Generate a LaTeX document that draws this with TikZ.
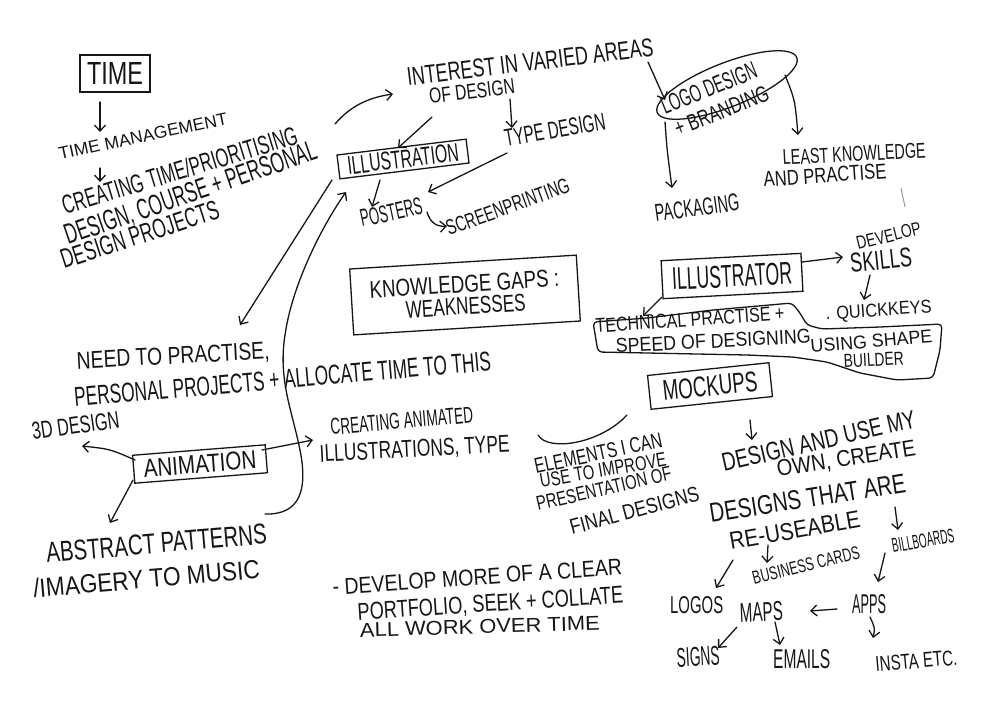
\documentclass[tikz,border=0pt]{standalone}
\usepackage{fontspec}
\setmainfont{Liberation Sans}
\usetikzlibrary{arrows.meta,shapes.geometric}
\newcommand\hwtext[3]{\resizebox{#1pt}{#2pt}{#3}}
\definecolor{ink}{HTML}{161616}
\definecolor{faint}{HTML}{9A9A9A}
\begin{document}
\begin{tikzpicture}[x=1pt,y=-1pt,
  lbl/.style={inner sep=0pt, anchor=base west, text=ink},
  box/.style={draw=ink, line width=1.3pt, inner sep=0pt, text=ink},
  conn/.style={draw=ink, line width=1.3pt, line cap=round, -{Straight Barb[length=6pt,width=11pt]}},
  plain/.style={draw=ink, line width=1.3pt, line cap=round}]
\fill[white] (0,0) rectangle (1000,705);
\useasboundingbox (0,0) rectangle (1000,705);

% ---------- boxes ----------
\node[box, minimum width=70pt, minimum height=37pt] (time) at (115,73.5) {\hwtext{56}{22}{TIME}};
\node[box, rotate=7, minimum width=130pt, minimum height=24pt] (illus) at (403,159) {\hwtext{112}{18}{ILLUSTRATION}};
\node[box, rotate=3.5, minimum width=227pt, minimum height=66pt, align=center, font=\fontsize{10pt}{22pt}\selectfont] (gaps) at (465,295) {\hwtext{190}{17}{KNOWLEDGE GAPS :}\\\hwtext{120}{17}{WEAKNESSES}};
\node[box, rotate=3, minimum width=140pt, minimum height=38pt] (illustrator) at (732,276) {\hwtext{120}{22}{ILLUSTRATOR}};
\node[box, rotate=6, minimum width=122pt, minimum height=34pt] (mock) at (710,386) {\hwtext{95}{20}{MOCKUPS}};
\node[box, rotate=4.5, minimum width=133pt, minimum height=28pt] (anim) at (200,464) {\hwtext{113}{18}{ANIMATION}};
\node[draw=ink, line width=1.3pt, ellipse, rotate=21.5, minimum width=150pt, minimum height=44pt, inner sep=0pt] (logo) at (727,85) {};
\draw[plain, rounded corners=4pt] (593,322) -- (647,318) -- (713,310) -- (792,303) -- (800,313) -- (807,325) -- (822,329) -- (880,327) -- (942,324) -- (940,350) -- (933,378) -- (897,380) -- (860,373) -- (827,362) -- (793,357) -- (747,355) -- (598,352) -- cycle;

% ---------- texts ----------
\node[lbl, rotate=12] (tm) at (60,160) {\hwtext{172}{12}{TIME MANAGEMENT}};
\node[lbl, rotate=17] (ct1) at (65,215) {\hwtext{245}{19}{CREATING TIME/PRIORITISING}};
\node[lbl, rotate=19] (ct2) at (68,245) {\hwtext{265}{20}{DESIGN, COURSE + PERSONAL}};
\node[lbl, rotate=18] (ct3) at (64,269) {\hwtext{165}{19}{DESIGN PROJECTS}};
\node[lbl, rotate=7] (int1) at (408,86) {\hwtext{248}{18}{INTEREST IN VARIED AREAS}};
\node[lbl, rotate=7] (int2) at (430,104) {\hwtext{86}{15}{OF DESIGN}};
\node[lbl, rotate=10] (type) at (506,147) {\hwtext{102}{17}{TYPE DESIGN}};
\node[lbl, rotate=12] (post) at (362,227) {\hwtext{63}{17}{POSTERS}};
\node[lbl, rotate=20] (screen) at (449,236) {\hwtext{130}{15}{SCREENPRINTING}};
\node[lbl, rotate=3] (need1) at (77,369) {\hwtext{193}{17}{NEED TO PRACTISE,}};
\node[lbl, rotate=5] (need2) at (75,407) {\hwtext{418}{19}{PERSONAL PROJECTS + ALLOCATE TIME TO THIS}};
\node[lbl, rotate=8] (threed) at (33,440) {\hwtext{88}{17}{3D DESIGN}};
\node[lbl, rotate=5] (cai1) at (331,435) {\hwtext{143}{16}{CREATING ANIMATED}};
\node[lbl, rotate=3] (cai2) at (320,462) {\hwtext{190}{17}{ILLUSTRATIONS, TYPE}};
\node[lbl, rotate=5] (abs1) at (47,563) {\hwtext{221}{20}{ABSTRACT PATTERNS}};
\node[lbl, rotate=5] (abs2) at (34,598) {\hwtext{227}{19}{/IMAGERY TO MUSIC}};
\node[lbl, rotate=4] (dev1) at (333,595) {\hwtext{290}{16}{- DEVELOP MORE OF A CLEAR}};
\node[lbl, rotate=3.7] (dev2) at (358,620) {\hwtext{266}{17}{PORTFOLIO, SEEK + COLLATE}};
\node[lbl, rotate=1.7] (dev3) at (360,637) {\hwtext{240}{14}{ALL WORK OVER TIME}};
\node[lbl, rotate=22] (logo1) at (665,115) {\hwtext{101}{17}{LOGO DESIGN}};
\node[lbl, rotate=22] (logo2) at (678,137) {\hwtext{100}{16}{+ BRANDING}};
\node[lbl, rotate=8] (pack) at (656,222) {\hwtext{85}{17}{PACKAGING}};
\node[lbl, rotate=3] (least1) at (783,165) {\hwtext{143}{15}{LEAST KNOWLEDGE}};
\node[lbl, rotate=4] (least2) at (764,187) {\hwtext{123}{15}{AND PRACTISE}};
\node[lbl, rotate=14] (skill1) at (858,250) {\hwtext{66}{13}{DEVELOP}};
\node[lbl, rotate=6] (skill2) at (851,273) {\hwtext{62}{19}{SKILLS}};
\node[lbl, rotate=4] (quick) at (826,320) {\hwtext{106}{13}{. QUICKKEYS}};
\node[lbl, rotate=4] (tech1) at (596,333) {\hwtext{189}{14}{TECHNICAL PRACTISE +}};
\node[lbl, rotate=3] (tech2) at (616,353) {\hwtext{195}{14}{SPEED OF DESIGNING}};
\node[lbl, rotate=5] (shape1) at (811,353) {\hwtext{122}{13}{USING SHAPE}};
\node[lbl, rotate=3] (shape2) at (844,368) {\hwtext{60}{13}{BUILDER}};
\node[lbl, rotate=12] (el1) at (536,474) {\hwtext{130}{15}{ELEMENTS I CAN}};
\node[lbl, rotate=10] (el2) at (541,488) {\hwtext{128}{14}{USE TO IMPROVE}};
\node[lbl, rotate=13] (el3) at (538,511) {\hwtext{138}{14}{PRESENTATION OF}};
\node[lbl, rotate=15] (el4) at (572,535) {\hwtext{133}{15}{FINAL DESIGNS}};
\node[lbl, rotate=13] (du1) at (724,472) {\hwtext{198}{18}{DESIGN AND USE MY}};
\node[lbl, rotate=9] (du2) at (778,477) {\hwtext{140}{16}{OWN, CREATE}};
\node[lbl, rotate=9] (du3) at (711,523) {\hwtext{198}{19}{DESIGNS THAT ARE}};
\node[lbl, rotate=10] (du4) at (731,550) {\hwtext{132}{17}{RE-USEABLE}};
\node[lbl, rotate=14] (bus) at (754,585) {\hwtext{110}{13}{BUSINESS CARDS}};
\node[lbl, rotate=10] (bill) at (893,553) {\hwtext{63}{14}{BILLBOARDS}};
\node[lbl] (logos) at (670,613) {\hwtext{53}{17}{LOGOS}};
\node[lbl, rotate=2] (maps) at (740,622) {\hwtext{43}{19}{MAPS}};
\node[lbl] (apps) at (852,613) {\hwtext{34}{19}{APPS}};
\node[lbl, rotate=3] (signs) at (677,667) {\hwtext{43}{19}{SIGNS}};
\node[lbl] (emails) at (773,668) {\hwtext{57}{19}{EMAILS}};
\node[lbl, rotate=5] (insta) at (876,672) {\hwtext{82}{15}{INSTA ETC.}};

% ---------- connector end points ----------
\coordinate (tA) at (100,102); \coordinate (tB) at (100,132);
\coordinate (tC) at (100,168); \coordinate (tD) at (100,182);
\coordinate (pA) at (335,124); \coordinate (pB) at (393,94);
\coordinate (iA) at (432,117); \coordinate (iB) at (398,148);
\coordinate (dA) at (510,99);  \coordinate (dB) at (512,128);
\coordinate (yA) at (507,153); \coordinate (yB) at (428,192);
\coordinate (lA) at (380,180); \coordinate (lB) at (372,207);
\coordinate (sA) at (427,212); \coordinate (sB) at (447,226);
\coordinate (nA) at (332,180); \coordinate (nB) at (240,325);
\coordinate (cA) at (265,514); \coordinate (cB) at (346,192);
\coordinate (rA) at (802,262); \coordinate (rB) at (843,257);
\coordinate (kA) at (870,275); \coordinate (kB) at (864,300);
\coordinate (eA) at (662,297); \coordinate (eB) at (643,316);
\coordinate (gA) at (648,62);  \coordinate (gB) at (665,100);
\coordinate (hA) at (665,122); \coordinate (hB) at (672,188);
\coordinate (jA) at (785,75);  \coordinate (jB) at (798,135);
\coordinate (fA) at (901,188); \coordinate (fB) at (905,207);
\coordinate (mA) at (135,460); \coordinate (mB) at (82,446);
\coordinate (oA) at (262,450); \coordinate (oB) at (313,440);
\coordinate (bA) at (133,480); \coordinate (bB) at (110,523);
\coordinate (uA) at (750,420); \coordinate (uB) at (752,440);
\coordinate (wA) at (538,435); \coordinate (wB) at (627,415);
\coordinate (vA) at (733,560); \coordinate (vB) at (716,588);
\coordinate (xA) at (768,545); \coordinate (xB) at (767,563);
\coordinate (zA) at (895,507); \coordinate (zB) at (898,530);
\coordinate (qA) at (885,553); \coordinate (qB) at (878,582);
\coordinate (aA) at (837,609); \coordinate (aB) at (810,611);
\coordinate (gsA) at (737,627); \coordinate (gsB) at (718,648);
\coordinate (geA) at (775,622); \coordinate (geB) at (780,645);
\coordinate (giA) at (870,617); \coordinate (giB) at (873,638);

% ---------- connectors ----------
\draw[conn] (tA) -- (tB);
\draw[conn] (tC) -- (tD);
\draw[conn] (pA) .. controls (352,104) and (372,97) .. (pB);
\draw[conn] (iA) -- (iB);
\draw[conn] (dA) -- (dB);
\draw[conn] (yA) -- (yB);
\draw[conn] (lA) -- (lB);
\draw[conn] (sA) .. controls (430,222) and (436,227) .. (sB);
\draw[conn] (nA) -- (nB);
\draw[conn] (cA) .. controls (300,515) and (308,490) .. (300,450) .. controls (292,410) and (278,380) .. (285,335) .. controls (292,285) and (322,226) .. (cB);
\draw[conn] (rA) -- (rB);
\draw[conn] (kA) -- (kB);
\draw[conn] (eA) -- (eB);
\draw[conn] (gA) -- (gB);
\draw[conn] (hA) .. controls (667,150) .. (hB);
\draw[conn] (jA) .. controls (795,100) .. (jB);
\draw[draw=faint, line width=1pt] (fA) -- (fB);
\draw[conn] (mA) .. controls (110,449) .. (mB);
\draw[conn] (oA) -- (oB);
\draw[conn] (bA) -- (bB);
\draw[conn] (uA) -- (uB);
\draw[plain] (wA) .. controls (548,452) and (600,444) .. (wB);
\draw[conn] (vA) -- (vB);
\draw[conn] (xA) -- (xB);
\draw[conn] (zA) -- (zB);
\draw[conn] (qA) -- (qB);
\draw[conn] (aA) -- (aB);
\draw[conn] (gsA) -- (gsB);
\draw[conn] (geA) -- (geB);
\draw[conn] (giA) .. controls (875,628) .. (giB);
\end{tikzpicture}
\end{document}
